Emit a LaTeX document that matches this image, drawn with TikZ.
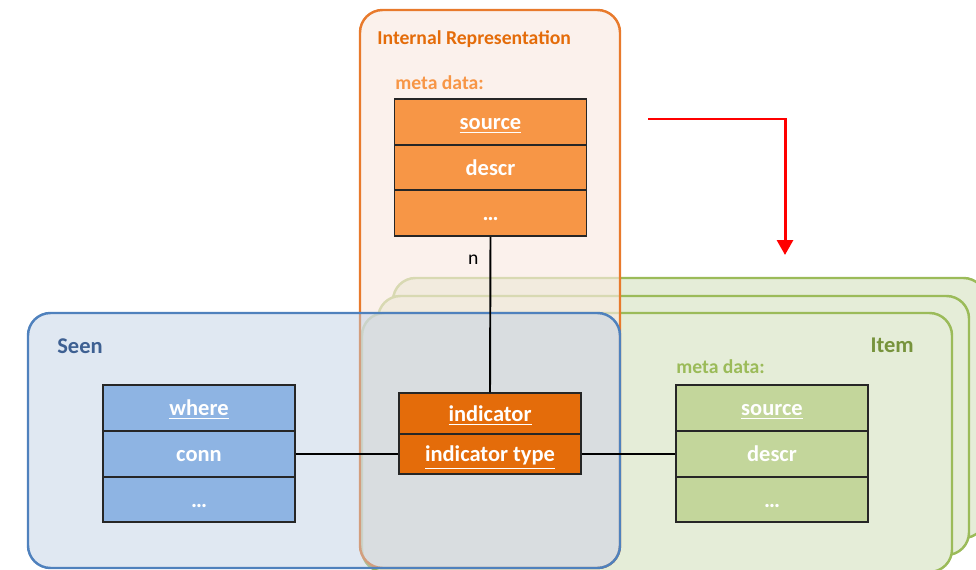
\documentclass[tikz,border=0pt]{standalone}
\usepackage{fontspec}
\setmainfont{Carlito}
\usetikzlibrary{arrows.meta}

\definecolor{orline}{HTML}{E87A2C}
\definecolor{ortitle}{HTML}{E46C0A}
\definecolor{orlight}{HTML}{F79646}
\definecolor{orfill}{RGB}{249,234,226}
\definecolor{orcell}{HTML}{F79646}
\definecolor{indcell}{HTML}{E46C0A}
\definecolor{blline}{HTML}{4F81BD}
\definecolor{bltitle}{HTML}{3E6092}
\definecolor{blfill}{RGB}{187,204,227}
\definecolor{blcell}{HTML}{8EB4E3}
\definecolor{grline}{HTML}{9BBB59}
\definecolor{grtitle}{HTML}{77933C}
\definecolor{grfill}{HTML}{E5EDD8}
\definecolor{grcell}{HTML}{C3D69B}

\tikzset{
  area/.style={line width=1.4pt, rounded corners=0.45cm},
  grarea/.style={area, draw=grline, fill=grfill},
  orarea/.style={area, draw=orline, fill=orfill, fill opacity=0.65},
  blarea/.style={area, draw=blline, fill=blfill, fill opacity=0.45},
  cell/.style={draw=black!85, line width=1.1pt, text=white,
    font=\bfseries\fontsize{12.8}{14}\selectfont,
    minimum width=3.84cm, minimum height=0.914cm, inner sep=0pt,
    text height=10pt, text depth=1pt},
  ocell/.style={cell, fill=orcell},
  icell/.style={cell, fill=indcell, minimum width=3.64cm, minimum height=0.81cm},
  bcell/.style={cell, fill=blcell},
  gcell/.style={cell, fill=grcell},
  areatitle/.style={font=\bfseries\fontsize{11.2}{13}\selectfont, inner sep=0pt},
  bigtitle/.style={font=\bfseries\fontsize{12.8}{14}\selectfont, inner sep=0pt},
  link/.style={draw=black, line width=1.1pt},
}

\begin{document}
\begin{tikzpicture}[x=0.02cm, y=-0.02cm]
  \clip (0,0) rectangle (976,570);

  % item stack
  \draw[grarea] (393,278) rectangle (986,538);
  \draw[grarea] (378,296) rectangle (969,555);
  \draw[grarea] (362,313) rectangle (952,572);
  % internal representation and seen
  \draw[orarea] (360,10) rectangle (620,568);
  \draw[blarea] (28,313) rectangle (620,568);

  \node[areatitle, text=ortitle, anchor=base west] (irtitle) at (377,45) {Internal Representation};
  \node[areatitle, text=orlight, anchor=base west] (ormeta) at (395,90) {meta data:};
  \node[bigtitle, text=bltitle, anchor=base west] (seentitle) at (57,354) {Seen};
  \node[bigtitle, text=grtitle, anchor=base east] (itemtitle) at (914,353) {Item};
  \node[areatitle, text=grline, anchor=base west] (grmeta) at (676,374) {meta data:};

  % tables
  \node[ocell] (osrc) at (490.5,122) {\underline{source}};
  \node[ocell] (odescr) at (490.5,167.5) {descr};
  \node[ocell] (omore) at (490.5,213) {…};

  \node[icell] (ind) at (490,413.5) {\underline{indicator}};
  \node[icell] (itype) at (490,454) {\underline{indicator type}};

  \node[bcell] (bwhere) at (199,408) {\underline{where}};
  \node[bcell] (bconn) at (199,454) {conn};
  \node[bcell] (bmore) at (199,499.5) {…};

  \node[gcell] (gsrc) at (772,408) {\underline{source}};
  \node[gcell] (gdescr) at (772,454) {descr};
  \node[gcell] (gmore) at (772,499.5) {…};

  % links
  \draw[link] (omore.south) -- node[pos=0.15, left=3pt, font=\fontsize{11.2}{13}\selectfont] {n} (ind.north);
  \draw[link] (bconn.east) -- (itype.west);
  \draw[link] (itype.east) -- (gdescr.west);

  % red arrow
  \coordinate (arrstart) at (648,119);
  \coordinate (arrend) at (785,255);
  \draw[red, line width=1.7pt, -{Triangle[length=0.3cm, width=0.32cm]}] (arrstart) -| (arrend);
\end{tikzpicture}
\end{document}
